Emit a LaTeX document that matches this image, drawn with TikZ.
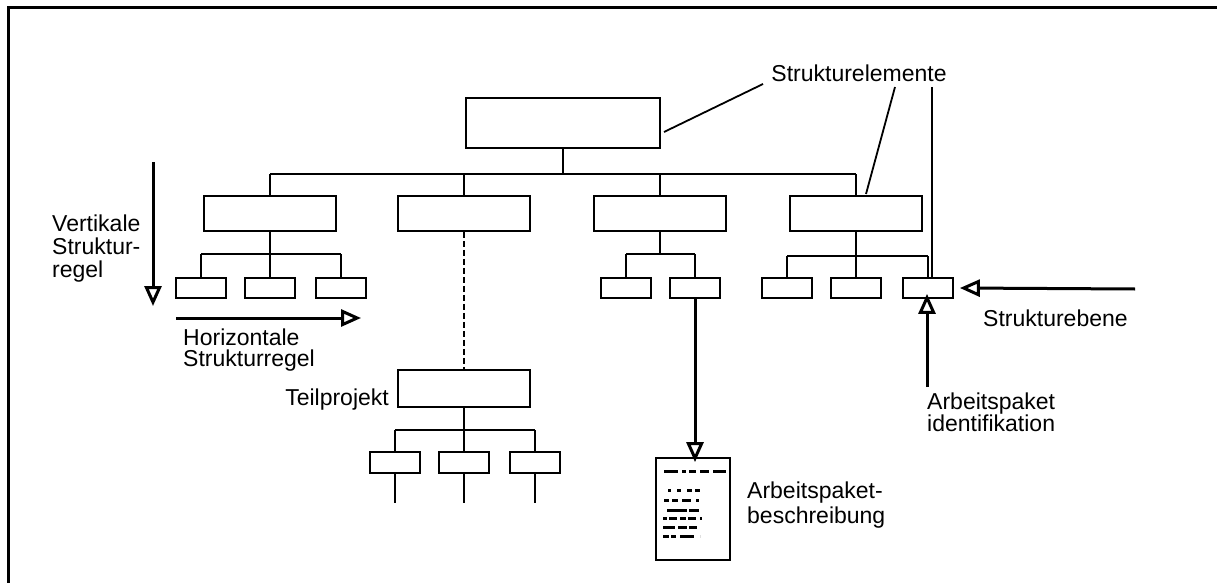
\documentclass[tikz,border=0pt]{standalone}
\usepackage{fontspec}
\setmainfont{Liberation Sans}
\usetikzlibrary{arrows.meta}
\begin{document}
\begin{tikzpicture}[x=1pt,y=-1pt,
  box/.style={draw,line width=1.8pt,inner sep=0pt,fill=white},
  topbox/.style={box,minimum width=194pt,minimum height=50pt},
  midbox/.style={box,minimum width=132pt,minimum height=35pt},
  leaf/.style={box,minimum width=50pt,minimum height=20pt},
  docbox/.style={box,minimum width=74pt,minimum height=102pt},
  link/.style={line width=1.8pt},
  pointer/.style={line width=1.8pt},
  bigarrow/.style={line width=3pt,-{Triangle[open,length=20pt,width=17pt]}},
  lbl/.style={font=\fontsize{23}{23}\selectfont,inner sep=0pt,align=left},
  scrib/.style={line width=3pt}]
\useasboundingbox (0,0) rectangle (1217,583);
% frame
\draw[line width=3pt] (8,583) -- (8,8) -- (1217,8);

% bus levels
\coordinate (bus1) at (0,174);
\coordinate (bus2) at (0,254);
\coordinate (bus3) at (0,254);
\coordinate (bus4) at (0,256);
\coordinate (bus5) at (0,430);

% top
\node[topbox] (top) at (563,123) {};
% level 2
\node[midbox] (m1) at (270,213.5) {};
\node[midbox] (m2) at (464,213.5) {};
\node[midbox] (m3) at (660,213.5) {};
\node[midbox] (m4) at (856,213.5) {};
% level 3
\node[leaf] (a1) at (201,288) {};
\node[leaf] (a2) at (270,288) {};
\node[leaf] (a3) at (341,288) {};
\node[leaf] (c1) at (626,288) {};
\node[leaf] (c2) at (695,288) {};
\node[leaf] (d1) at (787,288) {};
\node[leaf] (d2) at (856,288) {};
\node[leaf] (d3) at (928,288) {};
% Teilprojekt
\node[midbox,minimum height=37pt] (tp) at (464,388.5) {};
\node[leaf,minimum height=21pt] (e1) at (395,462.5) {};
\node[leaf,minimum height=21pt] (e2) at (464,462.5) {};
\node[leaf,minimum height=21pt] (e3) at (535,462.5) {};
% document
\node[docbox] (doc) at (693,509) {};

% tree links
\draw[link] (top.south) -- (top.south |- bus1);
\draw[link] (m1.north |- bus1) -- (m4.north |- bus1);
\foreach \n in {m1,m2,m3,m4} \draw[link] (\n.north) -- (\n.north |- bus1);
\draw[link] (m1.south) -- (m1.south |- bus2);
\draw[link] (a1.north |- bus2) -- (a3.north |- bus2);
\foreach \n in {a1,a2,a3} \draw[link] (\n.north) -- (\n.north |- bus2);
\draw[link] (m3.south) -- (m3.south |- bus3);
\draw[link] (c1.north |- bus3) -- (c2.north |- bus3);
\foreach \n in {c1,c2} \draw[link] (\n.north) -- (\n.north |- bus3);
\draw[link] (m4.south) -- (m4.south |- bus4);
\draw[link] (d1.north |- bus4) -- (d3.north |- bus4);
\foreach \n in {d1,d2,d3} \draw[link] (\n.north) -- (\n.north |- bus4);
\draw[link,dash pattern=on 6pt off 3pt] (m2.south) -- (tp.north);
\draw[link] (tp.south) -- (tp.south |- bus5);
\draw[link] (e1.north |- bus5) -- (e3.north |- bus5);
\foreach \n in {e1,e2,e3} \draw[link] (\n.north) -- (\n.north |- bus5);
\coordinate (f1) at (395,503);
\coordinate (f2) at (464,503);
\coordinate (f3) at (535,503);
\draw[link] (e1.south) -- (f1);
\draw[link] (e2.south) -- (f2);
\draw[link] (e3.south) -- (f3);

% Strukturelemente
\node[lbl] (se) at (859,73) {Strukturelemente};
\coordinate (p1) at (763,84);
\coordinate (p2) at (895,87);
\coordinate (p3) at (932,87);
\coordinate (q1) at (664,132);
\coordinate (q2) at (866,194);
\draw[pointer] (p1) -- (q1);
\draw[pointer] (p2) -- (q2);
\draw[pointer] (p3) -- (p3 |- d3.north);

% vertical rule
\coordinate (v1) at (153,162);
\coordinate (v2) at (153,306);
\draw[bigarrow] (v1) -- (v2);
\node[lbl,anchor=west] (vt) at (52,249) {Vertikale\\Struktur-\\regel};
% horizontal rule
\coordinate (h1) at (176,318);
\coordinate (h2) at (361,318);
\draw[bigarrow] (h1) -- (h2);
\node[lbl,anchor=west,font=\fontsize{23}{21}\selectfont] (ht) at (183,350) {Horizontale\\Strukturregel};

% Teilprojekt label
\node[lbl,anchor=east] (tpl) at (389,400) {Teilprojekt};

% Strukturebene
\coordinate (s1) at (1135,289);
\draw[bigarrow] (s1) -- ([xshift=6pt]d3.east);
\node[lbl,anchor=west] (sel) at (983,318) {Strukturebene};

% Arbeitspaket identifikation
\coordinate (i1) at (927,387);
\draw[bigarrow] (i1) -- ([yshift=5pt]d3.south -| i1);
\node[lbl,anchor=west,font=\fontsize{23}{21}\selectfont] (il) at (927,412) {Arbeitspaket\\identifikation};

% Arbeitspaket-beschreibung
\draw[bigarrow] (c2.south) -- ([yshift=-5pt]doc.north -| c2.south);
\node[lbl,anchor=west,font=\fontsize{23}{25}\selectfont] (dl) at (747,505) {Arbeitspaket-\\beschreibung};

% scribbles inside document
\draw[scrib,dash pattern=on 14pt off 4pt on 4pt off 3pt on 7pt off 4pt on 9pt off 4pt] (664,471) -- (726,471);
\draw[scrib,dash pattern=on 3pt off 6pt on 4pt off 6pt on 5pt] (668,490) -- (700,490);
\draw[scrib,dash pattern=on 5pt off 3pt on 6pt off 4pt on 9pt] (664,500) -- (702,500);
\draw[scrib,dash pattern=on 20pt off 2pt on 10pt] (667,510) -- (702,510);
\draw[scrib,dash pattern=on 4pt off 2pt on 8pt off 3pt on 6pt off 2pt on 8pt] (663,518) -- (706,518);
\draw[scrib,dash pattern=on 12pt off 3pt on 9pt off 2pt on 8pt] (663,527) -- (706,527);
\draw[scrib,dash pattern=on 6pt off 2pt on 5pt off 4pt on 14pt] (663,536) -- (700,536);
\end{tikzpicture}
\end{document}
